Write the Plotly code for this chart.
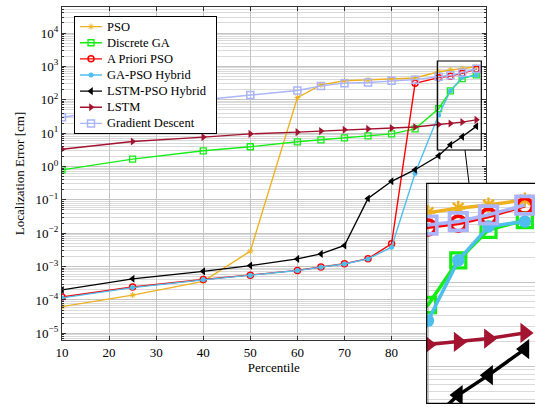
import plotly.graph_objects as go

percentile = [10, 25, 40, 50, 60, 65, 70, 75, 80, 85, 90, 92.5, 95, 98]
pso = [6.3e-5, 1.4e-4, 3.6e-4, 2.9e-3, 116, 280, 370, 396, 420, 450, 690, 780, 850, 980]
discrete_ga = [0.79, 1.66, 2.95, 3.9, 5.5, 6.3, 7.2, 8.3, 9.5, 13.4, 54, 185, 430, 560]
a_priori_pso = [1.23e-4, 2.45e-4, 4.1e-4, 5.5e-4, 7.7e-4, 9.7e-4, 1.22e-3, 1.73e-3, 4.8e-3, 310, 460, 510, 620, 830]
ga_pso_hybrid = [1.15e-4, 2.35e-4, 4.0e-4, 5.4e-4, 7.6e-4, 9.6e-4, 1.2e-3, 1.7e-3, 3.8e-3, 0.63, 35, 185, 470, 540]
lstm_pso_hybrid = [2.0e-4, 4.3e-4, 7.2e-4, 1.07e-3, 1.7e-3, 2.4e-3, 4.3e-3, 0.11, 0.36, 0.8, 2.1, 4.5, 7.8, 16]
lstm = [3.3, 5.6, 7.6, 9.5, 10.7, 11.5, 12.6, 13.4, 14.2, 15.3, 18.2, 19.5, 21.4, 25]
gradient_descent = [30, 60, 100, 140, 190, 260, 315, 330, 370, 400, 490, 540, 650, 850]

series_names = ["PSO", "Discrete GA", "A Priori PSO", "GA-PSO Hybrid",
                "LSTM-PSO Hybrid", "LSTM", "Gradient Descent"]
series_values = [pso, discrete_ga, a_priori_pso, ga_pso_hybrid,
                 lstm_pso_hybrid, lstm, gradient_descent]

y_tick_exponents = [-5, -4, -3, -2, -1, 0, 1, 2, 3, 4]
x_tick_values = [10, 20, 30, 40, 50, 60, 70, 80, 90]

# styles (kept separate from data)
styles = [
    dict(color="#EDB120", symbol="asterisk-open", size=5, lw=1.0),
    dict(color="#14EE14", symbol="square-open", size=6, lw=1.3),
    dict(color="#FF0000", symbol="circle-open", size=6, lw=1.5),
    dict(color="#4DBEEE", symbol="circle", size=5, lw=0),
    dict(color="#000000", symbol="triangle-left", size=7, lw=0),
    dict(color="#A2142F", symbol="triangle-right", size=7, lw=0),
    dict(color="#AAB4FA", symbol="square-open", size=7, lw=1.5),
]

FONT = "Liberation Serif, DejaVu Serif, serif"
fig = go.Figure()

MAG = 2.5
for name, vals, st in zip(series_names, series_values, styles):
    fig.add_trace(go.Scatter(
        x=percentile, y=vals, name=name, mode="lines+markers", showlegend=False,
        line=dict(color=st["color"], width=1.4),
        marker=dict(symbol=st["symbol"], size=st["size"], color=st["color"],
                    line=dict(color=st["color"], width=st["lw"])),
        xaxis="x", yaxis="y"))
for name, vals, st in zip(series_names, series_values, styles):
    fig.add_trace(go.Scatter(
        x=percentile, y=vals, name=name, mode="lines+markers", showlegend=False,
        line=dict(color=st["color"], width=1.4 * MAG),
        marker=dict(symbol=st["symbol"], size=st["size"] * MAG, color=st["color"],
                    line=dict(color=st["color"], width=st["lw"] * MAG)),
        xaxis="x2", yaxis="y2"))

# hand-built legend box (own small subplot, pixel-like units)
LEG_ROW0, LEG_ROWSTEP = 10.0, 16.1
legend_annotations = []
for i, (name, st) in enumerate(zip(series_names, styles)):
    row = LEG_ROW0 + LEG_ROWSTEP * i
    fig.add_trace(go.Scatter(
        x=[5, 27], y=[row, row], mode="lines", showlegend=False, hoverinfo="skip",
        line=dict(color=st["color"], width=1.4), xaxis="x3", yaxis="y3"))
    fig.add_trace(go.Scatter(
        x=[16], y=[row], mode="markers", showlegend=False, hoverinfo="skip",
        marker=dict(symbol=st["symbol"], size=st["size"], color=st["color"],
                    line=dict(color=st["color"], width=st["lw"])),
        xaxis="x3", yaxis="y3"))
    legend_annotations.append(dict(
        text=name, x=30, y=row, xref="x3", yref="y3", xanchor="left", yanchor="middle",
        showarrow=False, font=dict(family=FONT, size=12.5, color="black")))

grid_major = "#c4c4c4"
grid_minor = "#dadada"
axis_col = "#333333"

fig.update_layout(
    width=535, height=407,
    margin=dict(l=62, r=0, t=7, b=0),
    paper_bgcolor="white", plot_bgcolor="white",
    font=dict(family=FONT, size=13, color="black"),
    showlegend=False,
    xaxis=dict(domain=[0, 0.8958], range=[10, 100], anchor="y",
               tickvals=x_tick_values, ticks="inside", ticklen=4, tickcolor=axis_col,
               showgrid=True, gridcolor=grid_major, gridwidth=1,
               showline=True, linecolor=axis_col, linewidth=1.3, mirror="ticks",
               zeroline=False, tickfont=dict(size=13),
               title=dict(text="Percentile", font=dict(size=13), standoff=4)),
    yaxis=dict(domain=[0.1675, 1], type="log", range=[-5.2, 4.78], anchor="x",
               tickvals=[10.0 ** e for e in y_tick_exponents],
               ticktext=["10<sup>%s</sup>" % (("−%d" % -e) if e < 0 else str(e)) for e in y_tick_exponents],
               ticks="inside", ticklen=4, tickcolor=axis_col,
               showgrid=True, gridcolor=grid_major, gridwidth=1,
               minor=dict(dtick="D1", ticks="inside", ticklen=2, tickcolor=axis_col,
                          showgrid=True, gridcolor=grid_minor, gridwidth=1),
               showline=True, linecolor=axis_col, linewidth=1.3, mirror="ticks",
               zeroline=False, tickfont=dict(size=13),
               title=dict(text="Localization Error [cm]", font=dict(size=13), standoff=8)),
    xaxis2=dict(domain=[0.771, 1.0], range=[89.89, 98.84], anchor="y2",
                showticklabels=False, ticks="", dtick=10, tick0=0,
                showgrid=True, gridcolor=grid_major, showline=False, zeroline=False),
    yaxis2=dict(domain=[0.00925, 0.55925], type="log", range=[0.555, 3.19], anchor="x2",
                showticklabels=False, ticks="", dtick=1,
                showgrid=True, gridcolor=grid_major,
                minor=dict(dtick="D1", showgrid=True, gridcolor=grid_minor),
                showline=False, zeroline=False),
    xaxis3=dict(domain=[0.0275, 0.3256], range=[0, 141], anchor="y3",
                showticklabels=False, ticks="", showgrid=False, zeroline=False,
                showline=True, mirror=True, linecolor="black", linewidth=1),
    yaxis3=dict(domain=[0.684, 0.976], range=[116.6, 0], anchor="x3",
                showticklabels=False, ticks="", showgrid=False, zeroline=False,
                showline=True, mirror=True, linecolor="black", linewidth=1),
    annotations=legend_annotations,
    shapes=[
        dict(type="rect", xref="paper", yref="paper", x0=0.771, x1=1.05,
             y0=0.00925, y1=0.55925, line=dict(color="black", width=1.2)),
        dict(type="rect", xref="paper", yref="paper", x0=0.7935, x1=0.8865,
             y0=0.6425, y1=0.865, line=dict(color="black", width=1.2)),
        dict(type="line", xref="paper", yref="paper", x0=0.852, y0=0.6425,
             x1=0.8605, y1=0.55925, line=dict(color="black", width=1)),
    ],
)

fig.write_html("out.html", config={"displayModeBar": False},
               post_script="document.body.style.margin='0';document.body.style.overflow='hidden';")
